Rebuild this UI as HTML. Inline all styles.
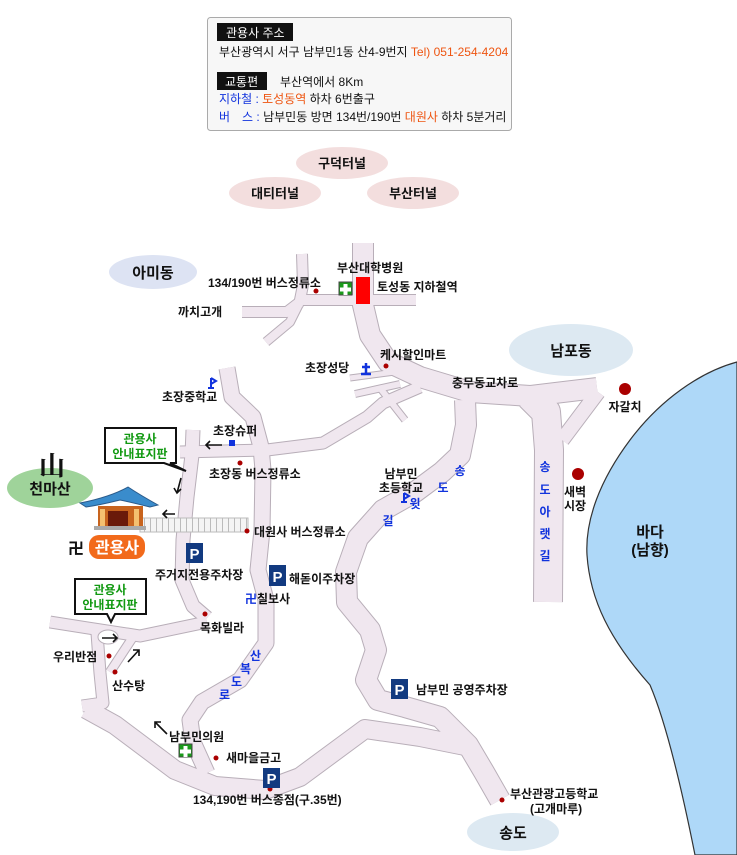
<!DOCTYPE html>
<html><head><meta charset="utf-8"><style>
html,body{margin:0;padding:0;background:#fff;width:737px;height:855px;overflow:hidden}
svg{display:block}
text{font-family:"Liberation Sans","Noto Sans CJK KR",sans-serif;font-size:12px;fill:#111;font-weight:bold}
.n{font-weight:normal}
.b{fill:#1133dd}
.g{fill:#119911}
.o{fill:#ee5511}
</style></head><body>
<svg width="737" height="855" viewBox="0 0 737 855" xmlns="http://www.w3.org/2000/svg">
<rect x="207.5" y="17.5" width="304" height="113" rx="3" fill="#f7f7f7" stroke="#aaa"/>
<rect x="217" y="23" width="76" height="18" fill="#111"/>
<text x="226" y="37" style="fill:#fff" class="n">관용사 주소</text>
<text x="219" y="56" class="n">부산광역시 서구 남부민1동 산4-9번지 <tspan class="o">Tel) 051-254-4204</tspan></text>
<rect x="217" y="72" width="50" height="18" fill="#111"/>
<text x="225" y="86" style="fill:#fff" class="n">교통편</text>
<text x="280" y="86" class="n">부산역에서 8Km</text>
<text x="219" y="103" class="n"><tspan class="b">지하철 :</tspan> <tspan class="o">토성동역</tspan> 하차 6번출구</text>
<text x="219" y="121" class="n"><tspan class="b">버　스 :</tspan> 남부민동 방면 134번/190번 <tspan class="o">대원사</tspan> 하차 5분거리</text>

<ellipse cx="342" cy="163" rx="46" ry="16" fill="#f3dede"/>
<ellipse cx="275" cy="193" rx="46" ry="16" fill="#f3dede"/>
<ellipse cx="413" cy="193" rx="46" ry="16" fill="#f3dede"/>
<text x="342" y="168" text-anchor="middle" style="font-size:13px">구덕터널</text>
<text x="275" y="198" text-anchor="middle" style="font-size:13px">대티터널</text>
<text x="413" y="198" text-anchor="middle" style="font-size:13px">부산터널</text>
<ellipse cx="153" cy="272" rx="44" ry="17" fill="#dde3f3"/>
<text x="153" y="278" text-anchor="middle" style="font-size:15px">아미동</text>
<ellipse cx="571" cy="350" rx="62" ry="26" fill="#dde9f2"/>
<text x="571" y="356" text-anchor="middle" style="font-size:15px">남포동</text>
<ellipse cx="513" cy="832" rx="46" ry="19" fill="#dde9f2"/>
<text x="513" y="838" text-anchor="middle" style="font-size:15px">송도</text>
<ellipse cx="50" cy="488" rx="43" ry="20" fill="#9fd39a"/>
<text x="50" y="494" text-anchor="middle" style="font-size:15px">천마산</text>
<text x="52" y="475" text-anchor="middle" style="font-size:26px;font-family:'Noto Serif CJK SC',serif">山</text>

<path d="M737,362 C700,372 660,400 630,440 C600,480 585,520 587,555 C590,600 610,640 650,685 C665,720 680,780 695,855 L737,855 Z" fill="#aed8f8" stroke="#333" stroke-width="1.2"/>

<g fill="none" stroke-linejoin="round" stroke-linecap="butt">
<g stroke="#b8aeb8">
<path d="M302,254 L303,285 L300,300 L416,300" stroke-width="12"/>
<path d="M242,312 L287,312 L300,302" stroke-width="12"/>
<path d="M300,302 L290,322 L266,342" stroke-width="10"/>
<path d="M363,243 L363,305 L370,335 L388,362 L420,377 L470,392 L530,396 L597,388" stroke-width="22"/>
<path d="M350,378 L395,372" stroke-width="7"/>
<path d="M380,388 L405,420" stroke-width="8"/>
<path d="M355,394 L400,384" stroke-width="8"/>
<path d="M530,396 L546,412 L549,450 L548,602" stroke-width="30"/>
<path d="M562,440 L598,392" stroke-width="16"/>
<path d="M465,400 L466,425 L460,455 L442,472 L415,492 L383,510 L358,538 L346,572 L347,602 L370,630 L376,650 L366,680 L378,700 L405,707 L440,717 L468,745 L484,772 L500,800" stroke-width="22"/>
<path d="M86,709 L115,725 L175,770 L215,786 L265,790 L300,777 L365,729 L420,737 L470,747" stroke-width="20"/>
<path d="M227,368 L232,397 L253,417 L261,447 L263,470 L262,530 L258,570 L266,600 L266,643 L240,680 L202,702 L190,720 L193,742 L207,773" stroke-width="17"/>
<path d="M180,452 L267,450 L323,443 L367,417 L383,403 L420,387" stroke-width="13"/>
<path d="M193,430 L192,455 L187,497 L183,540 L182,580 L193,606 L207,618" stroke-width="15"/>
<path d="M207,622 L140,636 L88,628 L50,622" stroke-width="13"/>
<path d="M97,633 L100,673 L103,703 L82,706" stroke-width="13"/>
<path d="M133,637 L110,672" stroke-width="10"/>
</g>
<g stroke="#f0e7ef">
<path d="M302,254 L303,285 L300,300 L416,300" stroke-width="10"/>
<path d="M242,312 L287,312 L300,302" stroke-width="10"/>
<path d="M300,302 L290,322 L266,342" stroke-width="8"/>
<path d="M363,243 L363,305 L370,335 L388,362 L420,377 L470,392 L530,396 L597,388" stroke-width="20"/>
<path d="M350,378 L395,372" stroke-width="5"/>
<path d="M380,388 L405,420" stroke-width="6"/>
<path d="M355,394 L400,384" stroke-width="6"/>
<path d="M530,396 L546,412 L549,450 L548,602" stroke-width="28"/>
<path d="M562,440 L598,392" stroke-width="14"/>
<path d="M465,400 L466,425 L460,455 L442,472 L415,492 L383,510 L358,538 L346,572 L347,602 L370,630 L376,650 L366,680 L378,700 L405,707 L440,717 L468,745 L484,772 L500,800" stroke-width="20"/>
<path d="M86,709 L115,725 L175,770 L215,786 L265,790 L300,777 L365,729 L420,737 L470,747" stroke-width="18"/>
<path d="M227,368 L232,397 L253,417 L261,447 L263,470 L262,530 L258,570 L266,600 L266,643 L240,680 L202,702 L190,720 L193,742 L207,773" stroke-width="15"/>
<path d="M180,452 L267,450 L323,443 L367,417 L383,403 L420,387" stroke-width="11"/>
<path d="M193,430 L192,455 L187,497 L183,540 L182,580 L193,606 L207,618" stroke-width="13"/>
<path d="M207,622 L140,636 L88,628 L50,622" stroke-width="11"/>
<path d="M97,633 L100,673 L103,703 L82,706" stroke-width="11"/>
<path d="M133,637 L110,672" stroke-width="8"/>
</g>
</g>
<ellipse cx="108" cy="637" rx="10" ry="7" fill="#fff" stroke="#b8aeb8"/>

<defs><pattern id="br" width="6" height="14" patternUnits="userSpaceOnUse"><rect width="6" height="14" fill="#f4f4f4"/><rect width="1" height="14" fill="#bbb"/></pattern></defs>
<rect x="140" y="518" width="108" height="14" fill="url(#br)" stroke="#bbb"/>

<path d="M80,503 Q110,497 128,487 Q140,495 158,505 L150,507 Q130,502 120,500 Q100,505 86,507 Z" fill="#3a8ccc" stroke="#2a5a8a"/>
<rect x="98" y="506" width="45" height="20" fill="#c8641e"/>
<rect x="108" y="511" width="20" height="15" fill="#6a1a0a"/>
<rect x="100" y="509" width="5" height="17" fill="#f4c070"/>
<rect x="134" y="509" width="5" height="17" fill="#f4c070"/>
<rect x="94" y="526" width="52" height="4" fill="#aaa"/>
<text x="68" y="554" style="font-size:16px">卍</text>
<rect x="89" y="535" width="56" height="24" rx="10" fill="#f26a1b"/>
<text x="117" y="553" text-anchor="middle" style="fill:#fff;font-size:16px">관용사</text>

<path d="M105,428 H176 V463 H170 L186,471 L164,463 H105 Z" fill="#fff" stroke="#111" stroke-width="2"/>
<text x="140" y="443" text-anchor="middle" class="g">관용사</text>
<text x="140" y="458" text-anchor="middle" class="g">안내표지판</text>
<path d="M75,579 H146 V614 H115 L111,622 L107,614 H75 Z" fill="#fff" stroke="#111" stroke-width="2"/>
<text x="110" y="594" text-anchor="middle" class="g">관용사</text>
<text x="110" y="609" text-anchor="middle" class="g">안내표지판</text>

<g fill="#a00">
<circle cx="316" cy="291" r="2.5"/><circle cx="386" cy="366" r="2.5"/><circle cx="240" cy="463" r="2.5"/>
<circle cx="247" cy="531" r="2.5"/><circle cx="205" cy="614" r="2.5"/><circle cx="109" cy="656" r="2.5"/>
<circle cx="115" cy="672" r="2.5"/><circle cx="216" cy="758" r="2.5"/><circle cx="270" cy="789" r="2.5"/>
<circle cx="502" cy="800" r="2.5"/><circle cx="625" cy="389" r="6"/><circle cx="578" cy="474" r="6"/>
</g>
<rect x="356" y="277" width="14" height="27" fill="#f00"/>
<rect x="339" y="282" width="13" height="13" fill="#1a9a1a" stroke="#444"/>
<path d="M343.5,284h4v3.5h3.5v4h-3.5v3.5h-4v-3.5h-3.5v-4h3.5z" fill="#fff"/>
<rect x="179" y="744" width="13" height="13" fill="#1a9a1a" stroke="#444"/>
<path d="M183.5,746h4v3.5h3.5v4h-3.5v3.5h-4v-3.5h-3.5v-4h3.5z" fill="#fff"/>
<rect x="229" y="440" width="6" height="6" fill="#1133dd"/>
<path d="M211,378v10M211,378l5,3l-5,3M208,388h6" stroke="#1133dd" stroke-width="2" fill="none"/>
<path d="M404,493v9M404,493l5,3l-5,3M401,502h6" stroke="#1133dd" stroke-width="2" fill="none"/>
<path d="M366,363v10M362,367h8M361,374h10" stroke="#1133dd" stroke-width="2.5" fill="none"/>
<rect x="186" y="543" width="17" height="20" fill="#123a80"/><text x="194.5" y="559" text-anchor="middle" style="fill:#fff;font-size:15px">P</text>
<rect x="269" y="565" width="17" height="21" fill="#123a80"/><text x="277.5" y="582" text-anchor="middle" style="fill:#fff;font-size:15px">P</text>
<rect x="391" y="679" width="17" height="20" fill="#123a80"/><text x="399.5" y="695" text-anchor="middle" style="fill:#fff;font-size:15px">P</text>
<rect x="263" y="768" width="17" height="20" fill="#123a80"/><text x="271.5" y="784" text-anchor="middle" style="fill:#fff;font-size:15px">P</text>
<g stroke="#111" stroke-width="1.6" fill="none">
<path d="M222,445H206M210,441l-4,4l4,4"/>
<path d="M181,478l-4,15M174,488l3,5l4,-4"/>
<path d="M175,514H163M167,510l-4,4l4,4"/>
<path d="M102,638H117M113,634l4,4l-4,4"/>
<path d="M128,662l11,-12M133,650h6v6"/>
<path d="M167,734l-12,-12M155,728v-6h6"/>
</g>

<text x="208" y="287">134/190번 버스정류소</text>
<text x="337" y="272">부산대학병원</text>
<text x="377" y="291">토성동 지하철역</text>
<text x="178" y="316">까치고개</text>
<text x="380" y="359">케시할인마트</text>
<text x="305" y="372">초장성당</text>
<text x="452" y="387">충무동교차로</text>
<text x="162" y="401">초장중학교</text>
<text x="213" y="435">초장슈퍼</text>
<text x="209" y="478">초장동 버스정류소</text>
<text x="401" y="478" text-anchor="middle">남부민</text>
<text x="401" y="492" text-anchor="middle">초등학교</text>
<text x="254" y="536">대원사 버스정류소</text>
<text x="155" y="579">주거지전용주차장</text>
<text x="289" y="583">해돋이주차장</text>
<text x="245" y="603"><tspan class="b">卍</tspan>칠보사</text>
<text x="200" y="632">목화빌라</text>
<text x="53" y="661">우리반점</text>
<text x="112" y="690">산수탕</text>
<text x="169" y="741">남부민의원</text>
<text x="226" y="762">새마을금고</text>
<text x="193" y="804">134,190번 버스종점(구.35번)</text>
<text x="416" y="694">남부민 공영주차장</text>
<text x="510" y="798">부산관광고등학교</text>
<text x="530" y="813">(고개마루)</text>
<text x="625" y="411" text-anchor="middle">자갈치</text>
<text x="575" y="496" text-anchor="middle">새벽</text>
<text x="575" y="510" text-anchor="middle">시장</text>
<text x="650" y="537" text-anchor="middle" style="font-size:15px">바다</text>
<text x="650" y="555" text-anchor="middle" style="font-size:15px">(남향)</text>
<text x="460" y="475" class="b" text-anchor="middle">송</text><text x="443" y="492" class="b" text-anchor="middle">도</text><text x="415" y="508" class="b" text-anchor="middle">윗</text><text x="388" y="525" class="b" text-anchor="middle">길</text>
<text x="545" y="471" class="b" text-anchor="middle">송</text><text x="545" y="494" class="b" text-anchor="middle">도</text><text x="545" y="516" class="b" text-anchor="middle">아</text><text x="545" y="538" class="b" text-anchor="middle">랫</text><text x="545" y="560" class="b" text-anchor="middle">길</text>
<text x="250" y="660" class="b">산</text><text x="240" y="673" class="b">복</text><text x="231" y="686" class="b">도</text><text x="219" y="699" class="b">로</text>
</svg>
</body></html>
